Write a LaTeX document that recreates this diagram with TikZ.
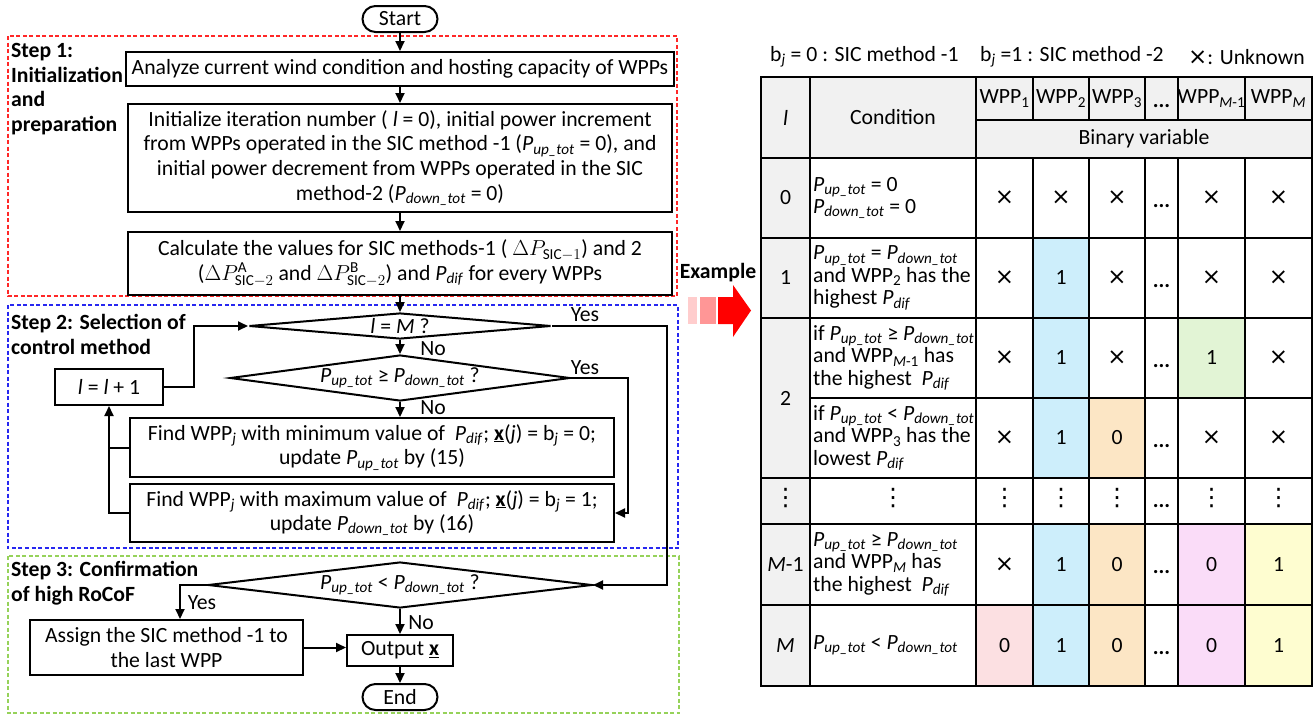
\documentclass[tikz,border=0pt]{standalone}
\usepackage{fix-cm}
\usepackage{fontspec}
\setmainfont{Carlito}
\newfontfamily\djv{DejaVu Sans}
\usetikzlibrary{shapes.geometric,arrows.meta}
\definecolor{cgray}{RGB}{241,241,241}
\definecolor{cblue}{RGB}{205,238,251}
\definecolor{cgreen}{RGB}{226,244,213}
\definecolor{corange}{RGB}{252,230,197}
\definecolor{cpink}{RGB}{250,220,248}
\definecolor{cyellow}{RGB}{254,253,208}
\definecolor{cred}{RGB}{252,224,226}
\definecolor{dred}{RGB}{255,40,40}
\definecolor{dblue}{RGB}{40,40,240}
\definecolor{dgreen}{RGB}{150,210,90}
\definecolor{exa}{RGB}{255,205,205}
\definecolor{exb}{RGB}{255,150,150}
\newcommand{\Pup}{\textit{P}\textsubscript{\textit{up\_tot}}}
\newcommand{\Pdn}{\textit{P}\textsubscript{\textit{down\_tot}}}
\newcommand{\Pdf}{\textit{P}\textsubscript{\textit{dif}}}
\newcommand{\il}{\textit{l}}
\newcommand{\ux}{\underline{\textbf{x}}}
\newcommand{\bj}{b\textsubscript{\textit{j}}}
\newcommand{\xx}{{\djv\fontsize{23}{23}\selectfont ×}}
\newcommand{\vd}{{\djv\fontsize{24}{24}\selectfont ⋮}}
\newcommand{\tabrow}[7]{%
  \node[cell] (#1a) at (1004.5,#2) {#3};
  \node[cell] (#1b) at (1061,#2) {#4};
  \node[cell] (#1c) at (1117,#2) {#5};
  \node[cell,anchor=base] (#1d) at (1161.5,#2+9) {\textbf{...}};
  \node[cell] (#1e) at (1211.5,#2) {#6};
  \node[cell] (#1f) at (1278.5,#2) {#7};}
\begin{document}
\begin{tikzpicture}[x=1pt,y=-1pt,
  fc/.style={font=\fontsize{21.7}{24.6}\selectfont},
  ft/.style={font=\fontsize{21.7}{22.5}\selectfont},
  procbox/.style={draw,line width=2pt,fill=white,align=center,inner sep=0pt,fc},
  term/.style={procbox,rounded corners=13pt},
  dia/.style={draw,diamond,line width=2pt,inner sep=0pt},
  lbl/.style={fc,inner sep=0pt},
  steplbl/.style={font=\fontsize{21.7}{24.6}\selectfont\bfseries,align=left,inner sep=0pt,anchor=north west},
  wire/.style={line width=2pt},
  arr/.style={line width=2pt,-{Triangle[length=10pt,width=9pt]}},
  zone/.style={line width=1.3pt,dash pattern=on 4pt off 2.5pt},
  tline/.style={line width=1.6pt},
  cell/.style={ft,inner sep=0pt},
  cond/.style={ft,inner sep=0pt,anchor=west,align=left},
]
\useasboundingbox (0,0) rectangle (1314,715);

% zones
\draw[zone,dred] (8,36) rectangle (677,296);
\draw[zone,dblue] (8,305) rectangle (678,548);
\draw[zone,dgreen] (8,556) rectangle (679,713);

\node[steplbl] (s1) at (11,43) {Step 1:\\Initialization\\and\\preparation};
\node[steplbl] (s2) at (11,314) {Step 2: Selection of\\control method};
\node[steplbl] (s3) at (11,561) {Step 3: Confirmation\\of high RoCoF};

% flowchart nodes
\node[term,minimum width=75pt,minimum height=26pt] (start) at (400,19) {Start};
\node[procbox,minimum width=548pt,minimum height=34pt] (b1) at (400,69) {Analyze current wind condition and hosting capacity of WPPs};
\node[procbox,minimum width=544pt,minimum height=108pt] (b2) at (400,158) {Initialize iteration number ( \il{} = 0), initial power increment\\ from WPPs operated in the SIC method -1 (\Pup{} = 0), and\\ initial power decrement from WPPs operated in the SIC\\ method-2 (\Pdn{} = 0)};
\node[procbox,minimum width=544pt,minimum height=63pt] (b3) at (400,263.5) {Calculate the values for SIC methods-1 ( $\Delta P_{\mathrm{SIC}-1}$) and 2\\ ($\Delta P^{\mathrm{A}}_{\mathrm{SIC}-2}$ and $\Delta P^{\mathrm{B}}_{\mathrm{SIC}-2}$) and \Pdf{} for every WPPs};

\node[dia,minimum width=302pt,minimum height=26pt] (d1) at (400,326) {};
\node[lbl] (d1t) at (d1) {\il{} = \textit{M} ?};
\node[dia,minimum width=340pt,minimum height=46pt] (d2) at (400,378) {};
\node[lbl] (d2t) at (d2) {\Pup{} ≥ \Pdn{} ?};
\node[procbox,minimum width=108pt,minimum height=36pt] (inc) at (109,387) {\il{} = \il{} + 1};
\node[procbox,minimum width=484pt,minimum height=59pt] (b4) at (372,447.5) {Find WPP\textsubscript{\textit{j}} with minimum value of \ \Pdf; \ux(\textit{j}) = \bj{} = 0;\\ update \Pup{} by (15)};
\node[procbox,minimum width=484pt,minimum height=58pt] (b5) at (372,513) {Find WPP\textsubscript{\textit{j}} with maximum value of \ \Pdf; \ux(\textit{j}) = \bj{} = 1;\\ update \Pdn{} by (16)};

\node[dia,minimum width=384pt,minimum height=46pt] (d3) at (400,585) {};
\node[lbl] (d3t) at (d3) {\Pup{} < \Pdn{} ?};
\node[procbox,minimum width=273pt,minimum height=55pt] (asg) at (166.5,647.5) {Assign the SIC method -1 to\\ the last WPP};
\node[procbox,minimum width=106pt,minimum height=31pt] (out) at (400,650.5) {Output \ux};
\node[term,minimum width=75pt,minimum height=26pt] (end) at (400,697) {End};

% connectors
\draw[arr] (start.south) -- (b1.north);
\draw[arr] (b1.south) -- (b2.north);
\draw[arr] (b2.south) -- (b3.north);
\draw[arr] (b3.south) -- (d1.north);
\draw[arr] (d1.south) -- (d2.north);
\node[lbl] (no1) at (433,349) {No};
\draw[arr] (d2.south) -- (d2.south |- b4.north);
\node[lbl] (no2) at (433,408) {No};
\coordinate (r1) at (667,326);
\draw[arr] (d1.east) -- (r1) |- (d3.east);
\node[lbl] (yes1) at (585,315) {Yes};
\coordinate (r2) at (628,378);
\draw[arr] (d2.east) -- (r2) |- (b5.east);
\node[lbl] (yes2) at (585,368) {Yes};
\draw[wire] (b4.west) -- (b4.west -| inc.south);
\draw[arr] (b5.west) -| (inc.south);
\draw[arr] (inc.east) -- ++(30,0) |- (d1.west);
\coordinate (r3) at (180,0);
\draw[arr] (d3.west) -| (r3 |- asg.north);
\node[lbl] (yes3) at (202,603) {Yes};
\draw[arr] (d3.south) -- (out.north);
\node[lbl] (no3) at (421,623) {No};
\draw[arr] (asg.east) -- (asg.east -| out.west);
\draw[arr] (out.south) -- (end.north);

% example arrow
\node[font=\fontsize{21.7}{24}\selectfont\bfseries,inner sep=0pt] (ex) at (718,273) {Example};
\fill[exa] (688,297) rectangle (697,324);
\fill[exb] (700,297) rectangle (716,324);
\fill[red] (718,297) -- (733,297) -- (733,285) -- (751,310.5) -- (733,337) -- (733,324) -- (718,324) -- cycle;

% legend
\node[cell,anchor=west] (lg1) at (770,57) {\bj{} = 0 : SIC method -1};
\node[cell,anchor=west] (lg2) at (980,57) {\bj{} =1 : SIC method -2};
\node[cell,anchor=west] (lg3) at (1188,57) {\xx: Unknown};

% table fills
\fill[cgray] (761,77) rectangle (1312,158);
\fill[cgray] (761,158) rectangle (810,686);
\fill[cblue] (1033,238) rectangle (1089,478);
\fill[cblue] (1033,524) rectangle (1089,686);
\fill[cgreen] (1178,318) rectangle (1245,398);
\fill[corange] (1089,398) rectangle (1145,478);
\fill[corange] (1089,524) rectangle (1145,686);
\fill[cpink] (1178,524) rectangle (1245,686);
\fill[cyellow] (1245,524) rectangle (1312,686);
\fill[cred] (976,605) rectangle (1033,686);

% table lines
\foreach \y in {158,238,318,478,524,605} \draw[tline] (761,\y) -- (1312,\y);
\draw[tline] (976,120) -- (1312,120);
\draw[tline] (810,398) -- (1312,398);
\foreach \x in {810,976} \draw[tline] (\x,77) -- (\x,686);
\foreach \x in {1033,1089,1145,1178,1245} {\draw[tline] (\x,77) -- (\x,120); \draw[tline] (\x,158) -- (\x,686);}
\draw[tline] (761,77) rectangle (1312,686);

% header
\node[cell] (hl) at (785.5,117.5) {\il};
\node[cell] (hc) at (893,117.5) {Condition};
\node[cell] (h1) at (1004.5,98.5) {WPP\textsubscript{1}};
\node[cell] (h2) at (1061,98.5) {WPP\textsubscript{2}};
\node[cell] (h3) at (1117,98.5) {WPP\textsubscript{3}};
\node[cell,anchor=base] (hd) at (1161.5,107) {\textbf{...}};
\node[cell] (h4) at (1211.5,98.5) {WPP\textsubscript{\textit{M}-1}};
\node[cell] (h5) at (1278.5,98.5) {WPP\textsubscript{\textit{M}}};
\node[cell] (hb) at (1144,139) {Binary variable};

% l column
\node[cell] (l0) at (785.5,198) {0};
\node[cell] (l1) at (785.5,278) {1};
\node[cell] (l2) at (785.5,398) {2};
\node[cell] (l3) at (785.5,498) {\vd};
\node[cell] (l4) at (785.5,564.5) {\textit{M}-1};
\node[cell] (l5) at (785.5,645.5) {\textit{M}};

% conditions
\node[cond] (c0) at (813,198) {\Pup{} = 0\\\Pdn{} = 0};
\node[cond] (c1) at (813,278) {\Pup{} = \Pdn\\and WPP\textsubscript{2} has the\\highest \Pdf};
\node[cond] (c2) at (813,358) {if \Pup{} ≥ \Pdn\\and WPP\textsubscript{\textit{M}-1} has\\the highest \ \Pdf};
\node[cond] (c3) at (813,438) {if \Pup{} < \Pdn\\and WPP\textsubscript{3} has the\\lowest \Pdf};
\node[cell] (c4) at (893,498) {\vd};
\node[cond] (c5) at (813,564.5) {\Pup{} ≥ \Pdn\\and WPP\textsubscript{\textit{M}} has\\the highest \ \Pdf};
\node[cond] (c6) at (813,645.5) {\Pup{} < \Pdn};

% binary values
\tabrow{ra}{198}{\xx}{\xx}{\xx}{\xx}{\xx}
\tabrow{rb}{278}{\xx}{1}{\xx}{\xx}{\xx}
\tabrow{rc}{358}{\xx}{1}{\xx}{1}{\xx}
\tabrow{rd}{438}{\xx}{1}{0}{\xx}{\xx}
\tabrow{re}{498}{\vd}{\vd}{\vd}{\vd}{\vd}
\tabrow{rf}{564.5}{\xx}{1}{0}{0}{1}
\tabrow{rg}{645.5}{0}{1}{0}{0}{1}
\end{tikzpicture}
\end{document}
